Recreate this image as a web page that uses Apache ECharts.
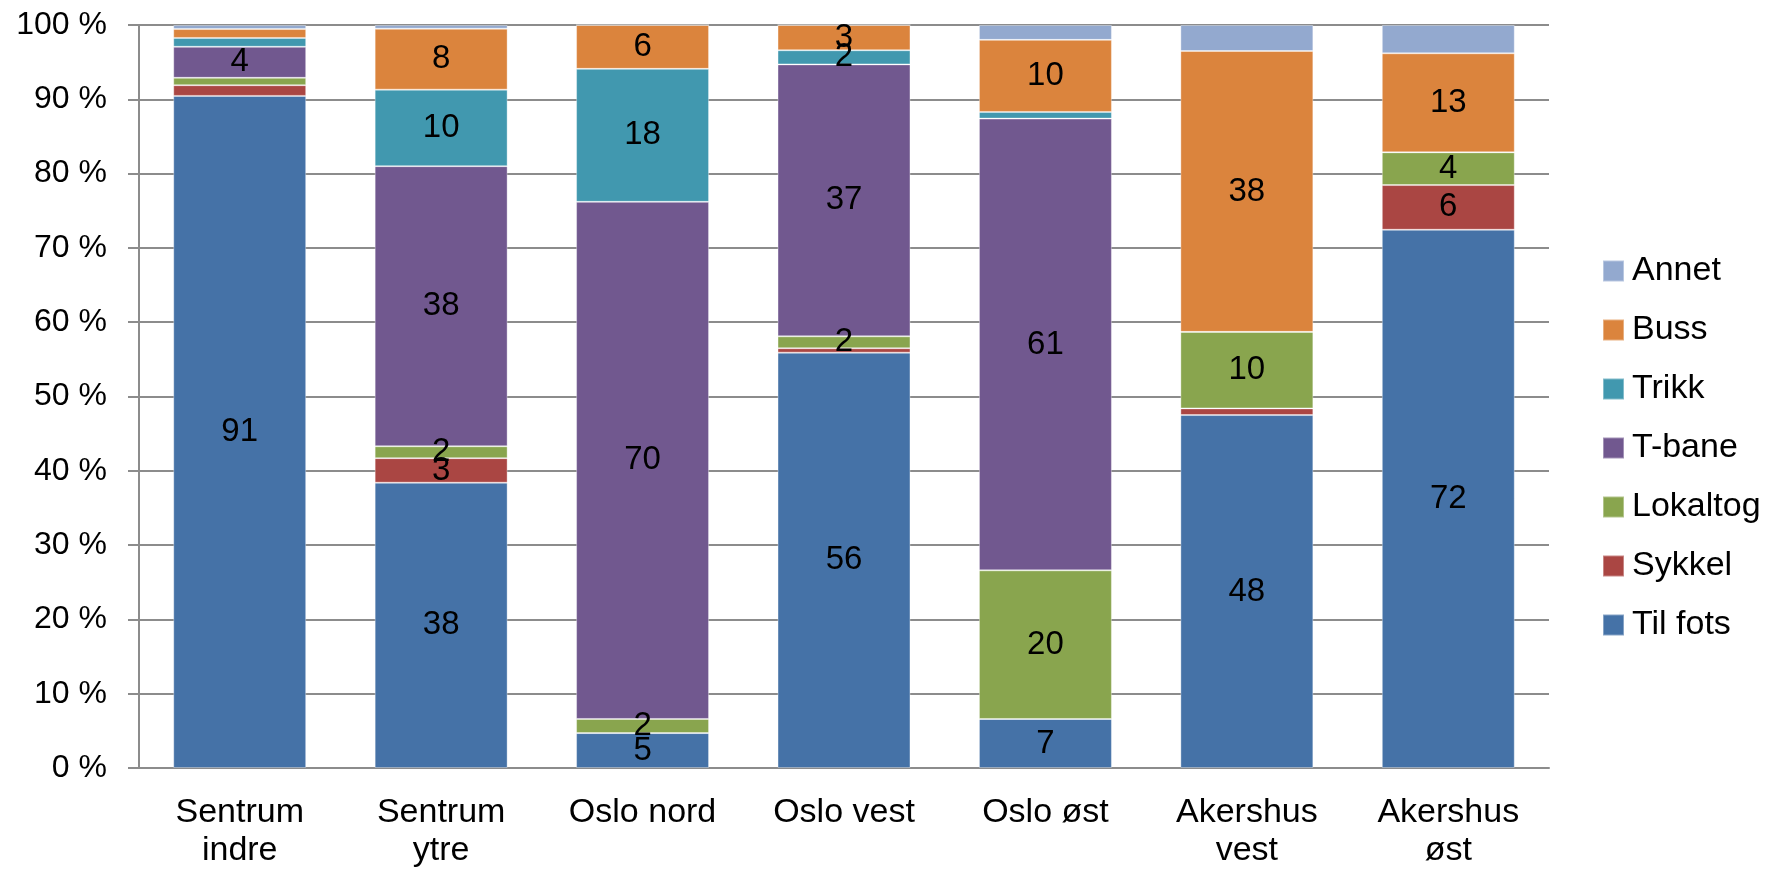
<!DOCTYPE html>
<html>
<head>
<meta charset="utf-8">
<script src="https://cdn.jsdelivr.net/npm/echarts@6/dist/echarts.min.js"></script>
<style>
  html, body { margin: 0; padding: 0; background: #fff; }
  #chart { width: 1765px; height: 871px; }
</style>
</head>
<body>
<div id="chart"></div>
<script>
// categories (x axis)
const categories = ['Sentrum\nindre', 'Sentrum\nytre', 'Oslo nord', 'Oslo vest', 'Oslo øst', 'Akershus\nvest', 'Akershus\nøst'];

// shares per travel mode (each column is scaled to 100 %)
const tilFots  = [91,   38.4, 4.7,  55.9, 6.6,  47.5, 72.3];
const sykkel   = [1.45, 3.3,  0,    0.6,  0,    0.9,  6.0];
const lokaltog = [1.0,  1.6,  1.9,  1.6,  20.0, 10.3, 4.4];
const tBane    = [4.2,  37.7, 69.6, 36.6, 60.8, 0,    0];
const trikk    = [1.2,  10.3, 17.9, 1.9,  0.9,  0,    0];
const buss     = [1.2,  8.2,  5.9,  3.4,  9.7,  37.8, 13.3];
const annet    = [0.55, 0.5,  0,    0,    2.0,  3.5,  3.8];

const yTicks = [0, 10, 20, 30, 40, 50, 60, 70, 80, 90, 100];

const seriesDefs = [
  { name: 'Til fots', data: tilFots,  color: '#4572A7', labels: true },
  { name: 'Sykkel',   data: sykkel,   color: '#AA4643', labels: true },
  { name: 'Lokaltog', data: lokaltog, color: '#89A54E', labels: true },
  { name: 'T-bane',   data: tBane,    color: '#71588F', labels: true },
  { name: 'Trikk',    data: trikk,    color: '#4198AF', labels: true },
  { name: 'Buss',     data: buss,     color: '#DB843D', labels: true },
  { name: 'Annet',    data: annet,    color: '#93A9CF', labels: false }
];

// 100 % stacking
const totals = categories.map((c, i) => seriesDefs.reduce((s, d) => s + d.data[i], 0));

const font = 'Liberation Sans, Arial, sans-serif';
const grey = '#8c8c8c';

const chart = echarts.init(document.getElementById('chart'));
chart.setOption({
  animation: false,
  textStyle: { fontFamily: font },
  grid: { left: 139, right: 216, top: 25, bottom: 103 },
  legend: {
    orient: 'vertical',
    left: 1597,
    top: 249,
    itemWidth: 21,
    itemHeight: 21,
    itemGap: 25,
    icon: 'rect',
    data: seriesDefs.map(d => d.name).reverse(),
    textStyle: { fontSize: 34, color: '#000', fontFamily: font, padding: [0, 0, 0, 3] }
  },
  xAxis: {
    type: 'category',
    data: categories,
    axisLine: { lineStyle: { color: grey, width: 2 } },
    axisTick: { length: 11, lineStyle: { color: grey, width: 2 } },
    axisLabel: { color: '#000', fontSize: 34, lineHeight: 38, margin: 26, fontFamily: font, interval: 0 }
  },
  yAxis: {
    type: 'value',
    min: yTicks[0],
    max: yTicks[yTicks.length - 1],
    interval: 10,
    axisLine: { show: true, lineStyle: { color: grey, width: 2 } },
    axisTick: { show: true, inside: false, length: 11, lineStyle: { color: grey, width: 2 } },
    splitLine: { lineStyle: { color: grey, width: 2 } },
    axisLabel: { color: '#000', fontSize: 32, margin: 32, fontFamily: font, formatter: '{value} %' }
  },
  series: seriesDefs.map(d => ({
    name: d.name,
    type: 'bar',
    stack: 'total',
    barWidth: '66%',
    itemStyle: { color: d.color, borderColor: 'rgba(255,255,255,0.35)', borderWidth: 1 },
    label: {
      show: true,
      position: 'inside',
      color: '#000',
      fontSize: 33,
      fontFamily: font,
      formatter: p => (d.labels && d.data[p.dataIndex] >= 1.5) ? String(Math.round(d.data[p.dataIndex])) : ''
    },
    data: d.data.map((v, i) => v / totals[i] * 100)
  }))
});
</script>
</body>
</html>
